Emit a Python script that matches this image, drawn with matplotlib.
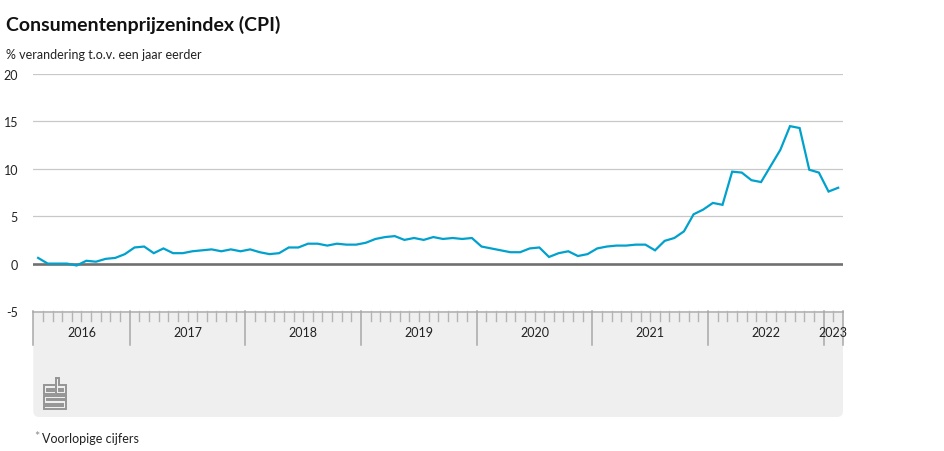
import matplotlib
matplotlib.use("Agg")
import matplotlib.pyplot as plt
import numpy as np
import pandas as pd
from matplotlib.patches import FancyBboxPatch, Rectangle

plt.rcParams['font.family'] = ['Lato', 'DejaVu Sans']

# CPI, % change vs a year earlier, monthly from March 2016 to February 2023
months = pd.period_range('2016-03', '2023-02', freq='M')
cpi = [0.6, 0.0, 0.0, 0.0, -0.2, 0.3, 0.2, 0.5, 0.6, 1.0,
       1.7, 1.8, 1.1, 1.6, 1.1, 1.1, 1.3, 1.4, 1.5, 1.3, 1.5, 1.3,
       1.5, 1.2, 1.0, 1.1, 1.7, 1.7, 2.1, 2.1, 1.9, 2.1, 2.0, 2.0,
       2.2, 2.6, 2.8, 2.9, 2.5, 2.7, 2.5, 2.8, 2.6, 2.7, 2.6, 2.7,
       1.8, 1.6, 1.4, 1.2, 1.2, 1.6, 1.7, 0.7, 1.1, 1.3, 0.8, 1.0,
       1.6, 1.8, 1.9, 1.9, 2.0, 2.0, 1.4, 2.4, 2.7, 3.4, 5.2, 5.7,
       6.4, 6.2, 9.7, 9.6, 8.8, 8.6, 10.3, 12.0, 14.5, 14.3, 9.9, 9.6,
       7.6, 8.0]
yticks = [-5, 0, 5, 10, 15, 20]
years = ['2016', '2017', '2018', '2019', '2020', '2021', '2022', '2023']

W, H = 945, 452
BLUE = '#00a1cd'

fig = plt.figure(figsize=(W / 100, H / 100), dpi=100)

def fx(px):
    return px / W

def fy(px):
    return 1 - px / H

left, right = 33.3, 843.0
n = len(months)
x = np.arange(n) + 0.5

# main chart
ax = fig.add_axes([fx(left), fy(312), fx(right - left), (312 - 75) / H])
ax.plot(x, cpi, color=BLUE, lw=1.6, zorder=3, solid_joinstyle='miter')
for t in yticks[2:]:
    ax.axhline(t, color='#c8c8c8', lw=0.9, zorder=1)
ax.axhline(0, color='#707070', lw=1.9, zorder=2)
ax.set_xlim(0, n)
ax.set_ylim(-5, 20)
ax.set_yticks(yticks)
ax.set_yticklabels([str(t) for t in yticks])
ax.tick_params(axis='y', length=0, pad=11, labelsize=9, labelcolor='#222222')
ax.set_xticks([])
for s in ax.spines.values():
    s.set_visible(False)
ax.patch.set_alpha(0)

# timeline box
box_h = 106
bg = fig.add_axes([fx(left), fy(312 + box_h), fx(right - left), box_h / H], zorder=0)
bw = right - left
bg.set_xlim(0, bw)
bg.set_ylim(box_h, 0)
bg.add_patch(FancyBboxPatch((0, 0), bw, box_h, boxstyle='round,pad=0,rounding_size=6',
                            fc='#efefef', ec='none'))
bg.add_patch(Rectangle((0, 0), bw, 20, fc='#efefef', ec='none'))
bg.axis('off')

# cbs logo (pixel units inside the box)
logo = [
    [(10, 7), (0, 7), (0, 16), (10, 16)],
    [(10, 10.5), (3.5, 10.5), (3.5, 12.5), (10, 12.5)],
    [(12, 0), (12, 16), (22, 16), (22, 7), (15, 7), (15, 0), (12, 0)],
    [(15, 10.5), (19, 10.5), (19, 12.5), (15, 12.5), (15, 10.5)],
    [(22, 18), (0, 18), (0, 25.5), (19, 25.5), (19, 27.5), (0, 27.5), (0, 31), (22, 31),
     (22, 22), (3.5, 22), (3.5, 21), (22, 21), (22, 18)],
]
for pts in logo:
    lx = [p[0] + 10.5 for p in pts]
    ly = [p[1] + 67 for p in pts]
    bg.plot(lx, ly, color='#959595', lw=1.4, solid_joinstyle='miter')

tl = fig.add_axes(bg.get_position(), zorder=1)
tl.set_xlim(0, n)
tl.set_ylim(box_h, 0)
tl.axis('off')
tl.axhline(0.5, color='#b4b4b4', lw=1.2, clip_on=False)
year_starts = [i for i, m in enumerate(months) if m.month == 1]
bounds = [0] + year_starts + [n]
for i in range(n + 1):
    if i in bounds:
        tl.plot([i, i], [0, 33.5], color='#a8a8a8', lw=1.1, clip_on=False)
    else:
        tl.plot([i, i], [0, 10], color='#b4b4b4', lw=1.0, clip_on=False)
for lab, a, b in zip(years, bounds[:-1], bounds[1:]):
    tl.text((a + b) / 2, 21, lab, ha='center', va='center', fontsize=9, color='#222222')

# titles and footnote
fig.text(fx(6), fy(31), 'Consumentenprijzenindex (CPI)', fontsize=14, fontweight='bold',
         color='#111111', va='baseline')
fig.text(fx(6), fy(59), '% verandering t.o.v. een jaar eerder', fontsize=9,
         color='#222222', va='baseline')
fig.text(fx(34), fy(441), '*', fontsize=9, color='#8a8a8a', va='baseline')
fig.text(fx(42), fy(443), 'Voorlopige cijfers', fontsize=9, color='#222222', va='baseline')

fig.savefig('out.png', dpi=100)
